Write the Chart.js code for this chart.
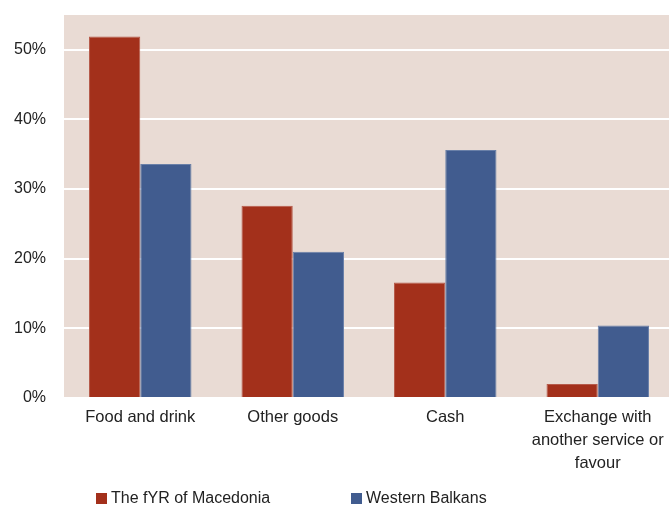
<!DOCTYPE html>
<html>
<head>
<meta charset="utf-8">
<script src="https://cdn.jsdelivr.net/npm/chart.js@4/dist/chart.umd.min.js"></script>
<style>
  html, body { margin: 0; padding: 0; background: #fff; overflow: hidden; }
  #wrap { position: relative; width: 669px; height: 505px; overflow: hidden; }
  #legend { position: absolute; top: 489px; left: 0; width: 669px; height: 20px;
    font-family: "Liberation Sans", Arial, sans-serif; font-size: 16px; color: #222; }
  .item { position: absolute; top: 0; white-space: nowrap; }
  .box { display: inline-block; width: 11px; height: 11px; margin-right: 4px; vertical-align: -1px; }
</style>
</head>
<body>
<div id="wrap">
  <canvas id="chart" width="674" height="505"></canvas>
  <div id="legend"></div>
</div>
<script>
const categories = ["Food and drink", "Other goods", "Cash", ["Exchange with", "another service or", "favour"]];
const seriesNames = ["The fYR of Macedonia", "Western Balkans"];
const macedonia = [51.9, 27.6, 16.6, 2.0];
const westernBalkans = [33.6, 21.0, 35.6, 10.4];
const yTicks = [0, 10, 20, 30, 40, 50];

const colors = ["#A3301B", "#415C8F"];
const borders = ["#B65A4A", "#6A80A8"];

// plot background
const plotBg = {
  id: "plotBg",
  beforeDraw(chart) {
    const { ctx, chartArea: a } = chart;
    ctx.save();
    ctx.fillStyle = "#E9DBD4";
    ctx.fillRect(a.left, a.top, a.right - a.left, a.bottom - a.top);
    ctx.restore();
  }
};

const ctx = document.getElementById("chart").getContext("2d");
new Chart(ctx, {
  type: "bar",
  data: {
    labels: categories,
    datasets: [
      { label: seriesNames[0], data: macedonia, backgroundColor: colors[0], borderColor: borders[0], borderWidth: 1 },
      { label: seriesNames[1], data: westernBalkans, backgroundColor: colors[1], borderColor: borders[1], borderWidth: 1 }
    ]
  },
  options: {
    responsive: false,
    animation: false,
    layout: { padding: { top: 15, right: 0, left: 0, bottom: 12 } },
    datasets: { bar: { categoryPercentage: 0.672, barPercentage: 1 } },
    plugins: { legend: { display: false }, tooltip: { enabled: false } },
    scales: {
      x: {
        grid: { display: false },
        border: { display: false },
        afterFit: s => { s.height = 95; s.paddingLeft = 0; s.paddingRight = 0; },
        ticks: {
          color: "#222", padding: 0, maxRotation: 0, autoSkip: false,
          font: { family: "'Liberation Sans', Arial, sans-serif", size: 16.5, lineHeight: 1.4 }
        }
      },
      y: {
        min: 0, max: 55,
        afterFit: s => { s.width = 64; s.paddingTop = 0; s.paddingBottom = 0; },
        afterBuildTicks: s => { s.ticks = yTicks.map(v => ({ value: v })); },
        border: { display: false },
        grid: { color: "#ffffff", lineWidth: 2, drawTicks: false },
        ticks: {
          color: "#222", padding: 18,
          font: { family: "'Liberation Sans', Arial, sans-serif", size: 16 },
          callback: v => v + "%"
        }
      }
    }
  },
  plugins: [plotBg]
});

// legend
const legend = document.getElementById("legend");
const legendX = [96, 351];
seriesNames.forEach((name, i) => {
  const d = document.createElement("div");
  d.className = "item";
  d.style.left = legendX[i] + "px";
  d.innerHTML = `<span class="box" style="background:${colors[i]}"></span>${name}`;
  legend.appendChild(d);
});
</script>
</body>
</html>
